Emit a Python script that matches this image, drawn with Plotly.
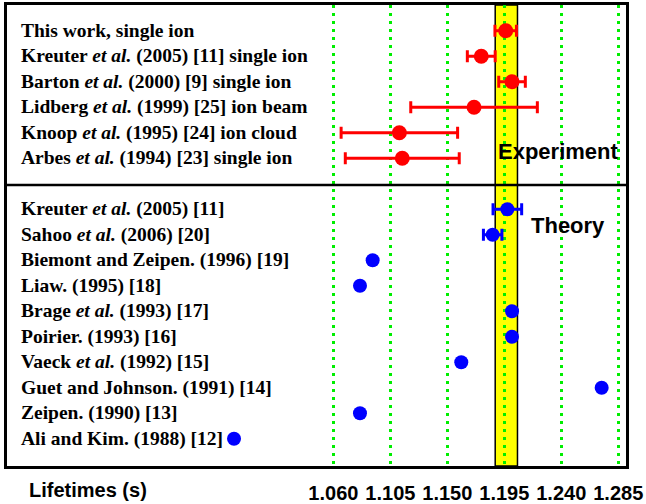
import plotly.graph_objects as go

# ---- data ----
exp_labels = [
    "This work, single ion",
    "Kreuter <i>et al.</i> (2005) [11] single ion",
    "Barton <i>et al.</i> (2000) [9] single ion",
    "Lidberg <i>et al.</i> (1999) [25] ion beam",
    "Knoop <i>et al.</i> (1995) [24] ion cloud",
    "Arbes <i>et al.</i> (1994) [23] single ion",
]
exp_values = [1.1961, 1.1768, 1.2011, 1.1711, 1.1121, 1.1144]
exp_errors = [0.0085, 0.0110, 0.0105, 0.0500, 0.0460, 0.0450]

theo_labels = [
    "Kreuter <i>et al.</i> (2005) [11]",
    "Sahoo <i>et al.</i> (2006) [20]",
    "Biemont and Zeipen. (1996) [19]",
    "Liaw. (1995) [18]",
    "Brage <i>et al.</i> (1993) [17]",
    "Poirier. (1993) [16]",
    "Vaeck <i>et al.</i> (1992) [15]",
    "Guet and Johnson. (1991) [14]",
    "Zeipen. (1990) [13]",
    "Ali and Kim. (1988) [12]",
]
theo_values = [1.1974, 1.1858, 1.0910, 1.0810, 1.2011, 1.2011, 1.1610, 1.2719, 1.0810, 0.9815]
theo_errors = [0.0113, 0.0073, None, None, None, None, None, None, None, None]

band_range = [1.1878, 1.2054]
tick_values = [1.060, 1.105, 1.150, 1.195, 1.240, 1.285]
tick_labels = ["1.060", "1.105", "1.150", "1.195", "1.240", "1.285"]

# ---- row positions ----
exp_rows = list(range(len(exp_labels)))
divider_row = len(exp_labels)
theo_rows = [divider_row + 1 + i for i in range(len(theo_labels))]

RED = "#ff0000"
BLUE = "#0000ff"
GREEN = "#00ee00"

fig = go.Figure()

fig.add_trace(go.Scatter(
    x=exp_values, y=exp_rows, mode="markers",
    marker=dict(color=RED, size=15),
    error_x=dict(type="data", array=exp_errors, color=RED, thickness=3, width=6),
    showlegend=False, hoverinfo="skip",
))

te_x = [v for v, e in zip(theo_values, theo_errors) if e is not None]
te_y = [r for r, e in zip(theo_rows, theo_errors) if e is not None]
te_e = [e for e in theo_errors if e is not None]
tn_x = [v for v, e in zip(theo_values, theo_errors) if e is None]
tn_y = [r for r, e in zip(theo_rows, theo_errors) if e is None]

fig.add_trace(go.Scatter(
    x=te_x, y=te_y, mode="markers",
    marker=dict(color=BLUE, size=14),
    error_x=dict(type="data", array=te_e, color=BLUE, thickness=3, width=6),
    showlegend=False, hoverinfo="skip",
))
fig.add_trace(go.Scatter(
    x=tn_x, y=tn_y, mode="markers",
    marker=dict(color=BLUE, size=14),
    showlegend=False, hoverinfo="skip",
))

# labels
label_font = dict(family="Liberation Serif", size=19.5, color="black")
for lab, r in zip(exp_labels + theo_labels, exp_rows + theo_rows):
    fig.add_annotation(
        text="<b>" + lab + "</b>", xref="paper", x=0.0194, xanchor="left",
        yref="y", y=r, yanchor="middle", showarrow=False, font=label_font,
    )

sect_font = dict(family="Liberation Sans", size=22, color="black", weight="bold")
fig.add_annotation(text="Experiment", x=1.2376, y=4.745, xref="x", yref="y",
                   showarrow=False, font=sect_font, xanchor="center", yanchor="middle")
fig.add_annotation(text="Theory", x=1.2456, y=7.62, xref="x", yref="y",
                   showarrow=False, font=sect_font, xanchor="center", yanchor="middle")
fig.add_annotation(text="Lifetimes (s)", xref="paper", yref="paper", x=0.0323, y=-0.052,
                   xanchor="left", yanchor="middle", showarrow=False,
                   font=dict(family="Liberation Sans", size=20, color="black", weight="bold"))

# yellow band
fig.add_shape(type="rect", xref="x", yref="paper", x0=band_range[0], x1=band_range[1],
              y0=0, y1=1, fillcolor="#ffff00", line=dict(color="black", width=1.5),
              layer="below")
# divider
fig.add_shape(type="line", xref="paper", yref="y", x0=0, x1=1,
              y0=divider_row + 0.05, y1=divider_row + 0.05,
              line=dict(color="black", width=2.5))

fig.update_layout(
    width=646, height=504,
    margin=dict(l=7, r=20, t=5, b=38, autoexpand=False),
    plot_bgcolor="white", paper_bgcolor="white",
    xaxis=dict(
        range=[0.80218, 1.29112], tickvals=tick_values, ticktext=tick_labels,
        showgrid=True, gridcolor=GREEN, gridwidth=3, griddash="3px,5px",
        zeroline=False, showline=True, mirror=True, linecolor="black", linewidth=2.5,
        ticks="outside", ticklen=7, tickcolor="rgba(0,0,0,0)", automargin=False,
        tickfont=dict(family="Liberation Sans", size=20, color="black", weight="bold"),
    ),
    yaxis=dict(
        range=[17.067, -1.008], showgrid=False, zeroline=False, showticklabels=False,
        showline=True, mirror=True, linecolor="black", linewidth=2.5, ticks="",
        automargin=False,
    ),
)

fig.write_html("out.html")
